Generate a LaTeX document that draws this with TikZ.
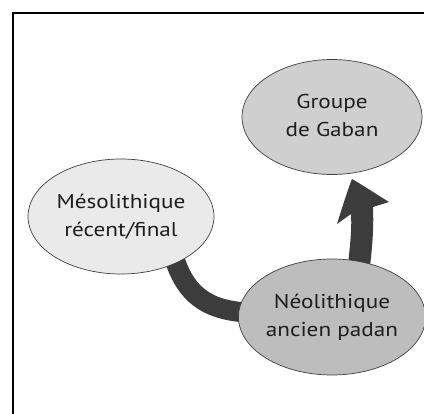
\documentclass[tikz,border=0pt]{standalone}
\usepackage{fontspec}
\usepackage{graphicx}
\setmainfont{PT Sans}
\usetikzlibrary{shapes.geometric}
\definecolor{arrowgray}{HTML}{3C3C3C}
\definecolor{lightfill}{HTML}{EAEAEA}
\definecolor{midfill}{HTML}{CFCFCF}
\definecolor{darkfill}{HTML}{BDBDBD}
\definecolor{textgray}{HTML}{1E1E1E}
\newcommand{\twolines}[2]{\scalebox{1.16}[1]{\begin{tabular}{@{}c@{}}#1\\#2\end{tabular}}}
\begin{document}
\begin{tikzpicture}[x=1pt,y=-1pt,
  period/.style={ellipse, draw=black!75, line width=0.7pt, minimum width=#1, inner sep=0pt,
    text=textgray, font=\fontsize{20}{28}\selectfont, align=center},
  band/.style={draw=arrowgray, line width=20pt}]
\useasboundingbox (0,0) rectangle (424,414);
\fill[white] (0,0) rectangle (424,414);
% frame (only top and left visible)
\draw[line width=2pt, black] (13,414) -- (13,13) -- (424,13);
% named anchor points for the connectors
\coordinate (m1) at (172,250);
\coordinate (n1) at (262,313);
% arrow from Mésolithique to Néolithique (behind nodes)
\draw[band] (m1) .. controls (185,302) and (215,313) .. (n1);
% arrow from Néolithique to Groupe de Gaban
\fill[arrowgray] (347,275) .. controls (350,245) and (352,230) .. (351,214)
  -- (337,224) .. controls (343,205) and (347,192) .. (352,179)
  .. controls (364,186) and (376,194) .. (389,202)
  -- (373,207) .. controls (374,230) and (372,250) .. (369,275) -- cycle;
% nodes
\node[period=186pt, minimum height=115pt, fill=lightfill] (meso) at (121,216.5)
  {\twolines{Mésolithique}{récent/final}};
\node[period=180pt, minimum height=115pt, fill=midfill] (gaban) at (332,117)
  {\twolines{Groupe}{de Gaban}};
\node[period=180pt, minimum height=116pt, fill=darkfill] (neo) at (332,317)
  {\twolines{Néolithique}{ancien padan}};
\end{tikzpicture}
\end{document}
